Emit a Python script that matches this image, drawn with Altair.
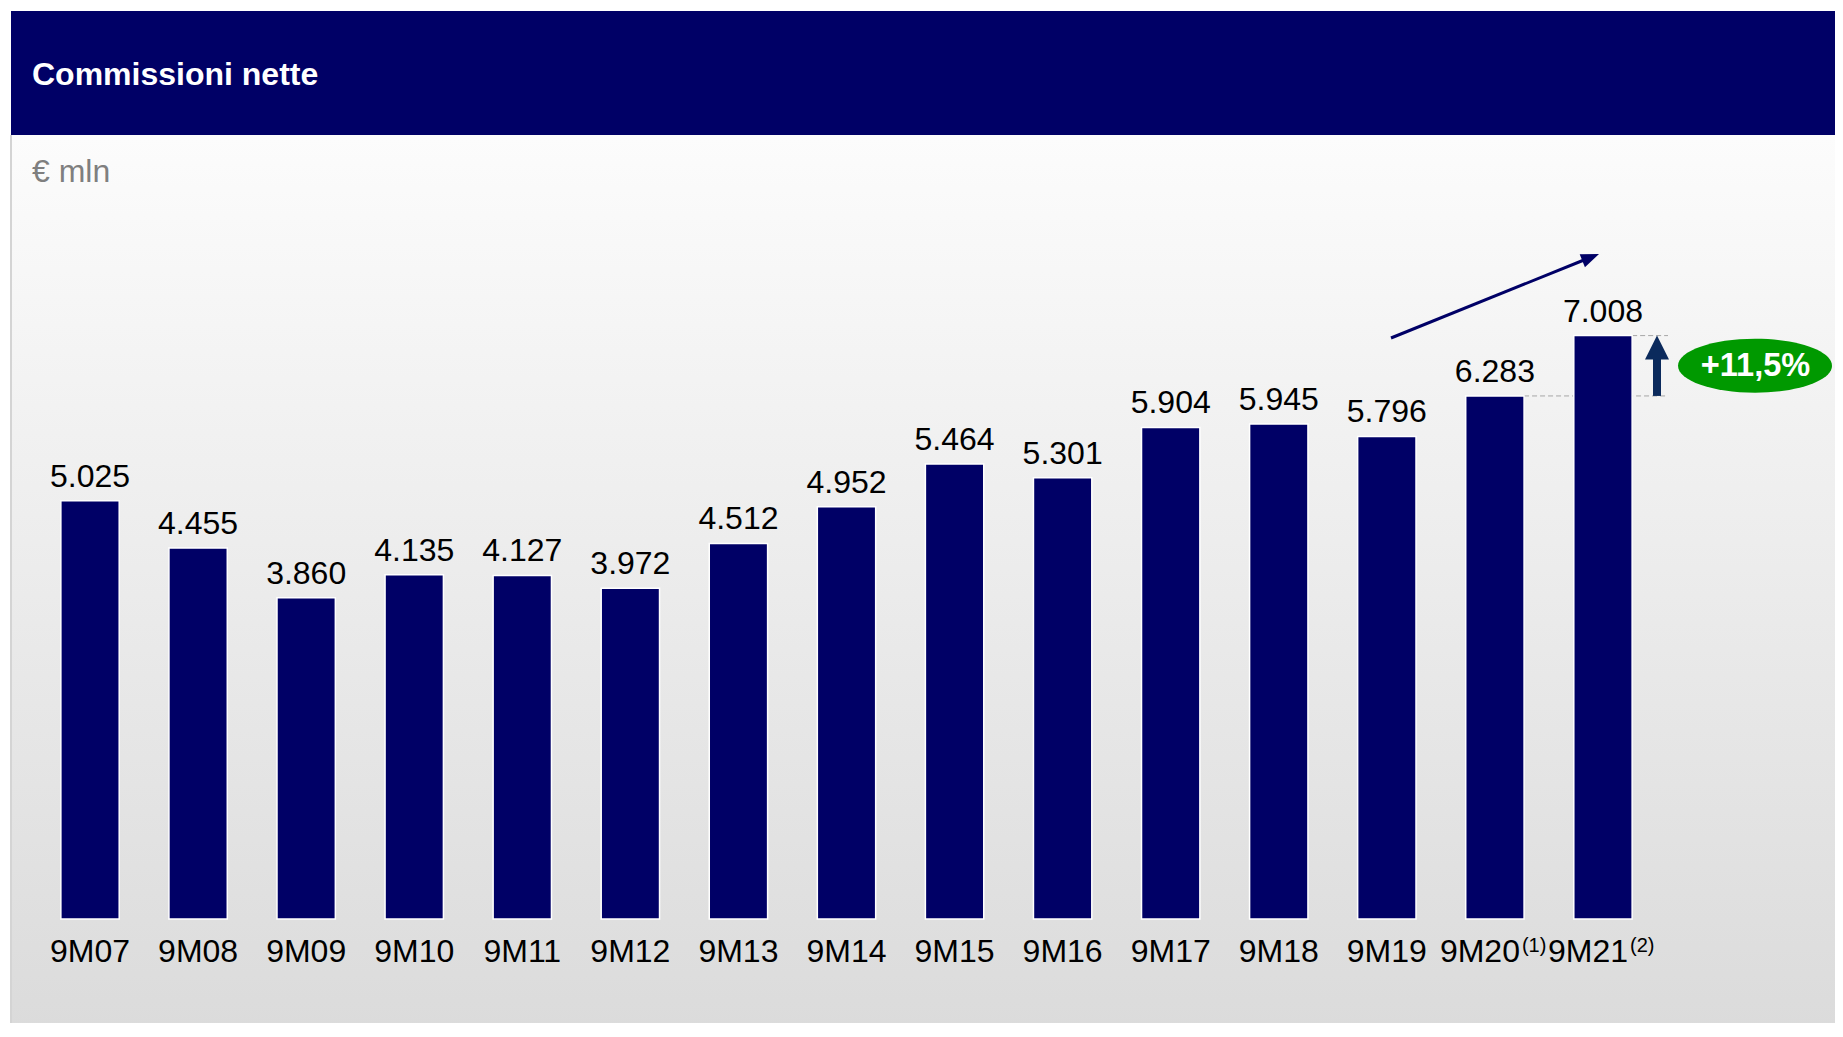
import altair as alt
import pandas as pd

# ---- data ----
categories = ["9M07", "9M08", "9M09", "9M10", "9M11", "9M12", "9M13", "9M14",
              "9M15", "9M16", "9M17", "9M18", "9M19", "9M20", "9M21"]
values = [5025, 4455, 3860, 4135, 4127, 3972, 4512, 4952,
          5464, 5301, 5904, 5945, 5796, 6283, 7008]
value_labels = ["5.025", "4.455", "3.860", "4.135", "4.127", "3.972", "4.512", "4.952",
                "5.464", "5.301", "5.904", "5.945", "5.796", "6.283", "7.008"]
notes = ["", "", "", "", "", "", "", "", "", "", "", "", "", "(1)", "(2)"]
title_text = "Commissioni nette"
unit_text = "€ mln"
growth_text = "+11,5%"

df = pd.DataFrame({"cat": categories, "value": values, "label": value_labels, "note": notes})
one = pd.DataFrame({"k": [0]})
arrow_df = pd.DataFrame({"y0": [values[-2]], "y1": [values[-1]]})

NAVY = "#000066"
ARROW = "#0b2a5c"
GREEN = "#009900"
FONT = "Liberation Sans"

W, H = 1621, 666
PAD = {"left": 28, "top": 245, "right": 178, "bottom": 104}

xscale = alt.Scale(paddingInner=0.46, paddingOuter=0.23)
xaxis = alt.Axis(labels=False, ticks=False, title=None, domainColor="black",
                 domainWidth=3, grid=False)
yscale = alt.Scale(domain=[0, 8000], nice=False, zero=True)


def xe(**kw):
    return alt.X("cat:N", sort=categories, scale=xscale, axis=xaxis, **kw)


def ye(field):
    return alt.Y(field, scale=yscale, axis=None)


bg = alt.Chart(one).mark_rect(
    color=alt.LinearGradient(
        gradient="linear",
        stops=[alt.GradientStop(color="#fcfcfc", offset=0),
               alt.GradientStop(color="#dbdbdb", offset=1)],
        x1=0, x2=0, y1=0, y2=1)
).encode(x=alt.value(-25), x2=alt.value(1810), y=alt.value(-118), y2=alt.value(775))

header = alt.Chart(one).mark_rect(color=NAVY).encode(
    x=alt.value(-25), x2=alt.value(1810), y=alt.value(-242), y2=alt.value(-118))

border = alt.Chart(one).mark_rule(color="#d4d4d4", strokeWidth=2).encode(
    x=alt.value(-25), y=alt.value(-118), y2=alt.value(775))

title = alt.Chart(pd.DataFrame({"t": [title_text]})).mark_text(
    align="left", baseline="alphabetic", font=FONT, fontSize=32,
    fontWeight="bold", color="white"
).encode(x=alt.value(-4), y=alt.value(-168), text="t:N")

unit = alt.Chart(pd.DataFrame({"t": [unit_text]})).mark_text(
    align="left", baseline="alphabetic", font=FONT, fontSize=32, color="#7f7f7f"
).encode(x=alt.value(-4), y=alt.value(-71), text="t:N")

bars = alt.Chart(df).mark_bar(color=NAVY, stroke="white", strokeWidth=1.5).encode(
    x=xe(), y=ye("value:Q"))

vlabels = alt.Chart(df).mark_text(
    baseline="alphabetic", dy=-14, fontSize=32, font=FONT, color="black"
).encode(x=xe(), y=ye("value:Q"), text="label:N")

catlab_plain = alt.Chart(df).transform_filter("datum.note == ''").mark_text(
    baseline="alphabetic", fontSize=32, font=FONT, color="black"
).encode(x=xe(), y=alt.value(708.7), text="cat:N")

catlab_noted = alt.Chart(df).transform_filter("datum.note != ''").mark_text(
    baseline="alphabetic", fontSize=32, font=FONT, color="black", dx=-15
).encode(x=xe(), y=alt.value(708.7), text="cat:N")

sup = alt.Chart(df).transform_filter("datum.note != ''").mark_text(
    align="left", baseline="alphabetic", fontSize=20, font=FONT, color="black", dx=27
).encode(x=xe(), y=alt.value(698.5), text="note:N")

dashes = alt.Chart(df).transform_filter(
    alt.FieldOneOfPredicate(field="cat", oneOf=categories[-2:])
).mark_rule(color="#a6a6a6", strokeDash=[5, 3], strokeWidth=1).encode(
    x=xe(bandPosition=1), x2=alt.value(1632), y=ye("value:Q"))

shaft = alt.Chart(arrow_df).mark_rule(color=ARROW, strokeWidth=8, y2Offset=20).encode(
    x=alt.value(1621), y=ye("y0:Q"), y2="y1:Q")

head = alt.Chart(arrow_df).mark_point(
    shape="M0,0 L1,2 L-1,2 Z", size=576, filled=True, color=ARROW, opacity=1
).encode(x=alt.value(1621), y=ye("y1:Q"))

ellipse = alt.Chart(arrow_df).transform_calculate(mid="(datum.y0 + datum.y1) / 2").mark_point(
    shape="M-1,0 A1,0.35 0 1,1 1,0 A1,0.35 0 1,1 -1,0 Z", size=154 * 154,
    filled=True, color=GREEN, opacity=1
).encode(x=alt.value(1719), y=ye("mid:Q"))

growth = alt.Chart(arrow_df.assign(t=growth_text)).transform_calculate(
    mid="(datum.y0 + datum.y1) / 2"
).mark_text(fontSize=32.5, fontWeight="bold", font=FONT, color="white", baseline="middle").encode(
    x=alt.value(1719.5), y=ye("mid:Q"), text="t:N")

diag = alt.Chart(one).mark_rule(color=NAVY, strokeWidth=3).encode(
    x=alt.value(1355), x2=alt.value(1548), y=alt.value(85), y2=alt.value(7))

diag_head = alt.Chart(one).mark_point(
    shape="M0,0 L-1.8,-0.7 L-1.8,0.7 Z", size=400, angle=338,
    filled=True, color=NAVY, opacity=1
).encode(x=alt.value(1563), y=alt.value(1))

chart = alt.layer(
    bg, header, border, title, unit, dashes, bars, vlabels,
    catlab_plain, catlab_noted, sup, shaft, head, ellipse, growth, diag, diag_head
).properties(
    width=W, height=H, padding=PAD, autosize=alt.AutoSizeParams(type="none")
).configure(background="white").configure_view(stroke=None)

chart.save("out.html", embed_options={"renderer": "svg", "actions": False})
